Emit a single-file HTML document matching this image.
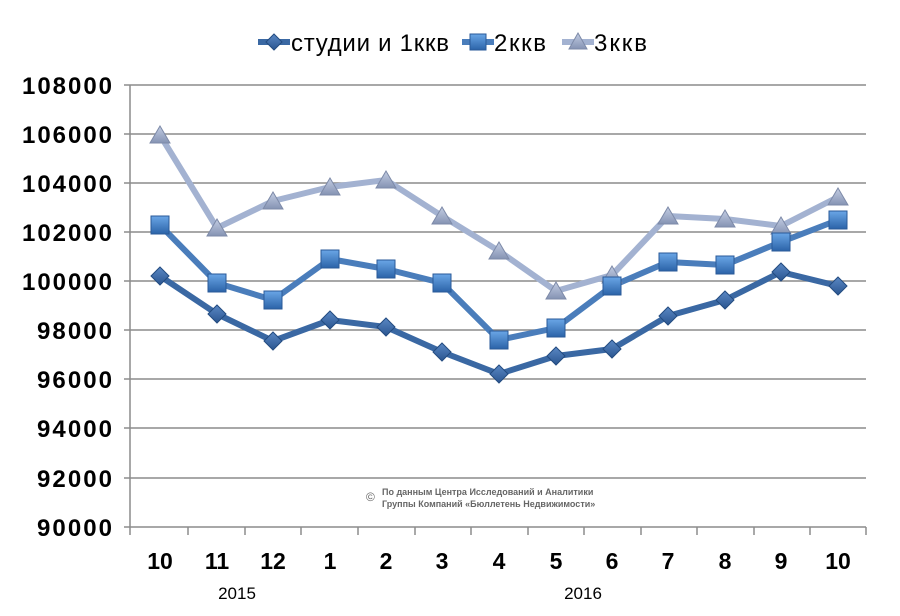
<!DOCTYPE html>
<html><head><meta charset="utf-8"><style>
body{margin:0;background:#fff;}
svg text{font-family:"Liberation Sans",sans-serif;}
</style></head><body>
<svg width="900" height="611" viewBox="0 0 900 611" xmlns="http://www.w3.org/2000/svg">
<defs>
<linearGradient id="gs" x1="0" y1="0" x2="0" y2="1"><stop offset="0" stop-color="#6aa6e6"/><stop offset="1" stop-color="#2b63a8"/></linearGradient>
<linearGradient id="gd" x1="0" y1="0" x2="0" y2="1"><stop offset="0" stop-color="#5a88c4"/><stop offset="1" stop-color="#2a5590"/></linearGradient>
<linearGradient id="gt" x1="0" y1="0" x2="0" y2="1"><stop offset="0" stop-color="#c3cde3"/><stop offset="1" stop-color="#8593b3"/></linearGradient>
</defs>
<g stroke="#8c8c8c" stroke-width="1.5">
<line x1="130" y1="85" x2="866" y2="85"/><line x1="130" y1="134" x2="866" y2="134"/>
<line x1="130" y1="183" x2="866" y2="183"/><line x1="130" y1="232" x2="866" y2="232"/>
<line x1="130" y1="281" x2="866" y2="281"/><line x1="130" y1="330" x2="866" y2="330"/>
<line x1="130" y1="379" x2="866" y2="379"/><line x1="130" y1="428" x2="866" y2="428"/>
<line x1="130" y1="478" x2="866" y2="478"/><line x1="130" y1="527" x2="866" y2="527"/>
<line x1="130" y1="85" x2="130" y2="535"/>
<line x1="124" y1="85" x2="130" y2="85"/><line x1="124" y1="134" x2="130" y2="134"/><line x1="124" y1="183" x2="130" y2="183"/><line x1="124" y1="232" x2="130" y2="232"/><line x1="124" y1="281" x2="130" y2="281"/><line x1="124" y1="330" x2="130" y2="330"/><line x1="124" y1="379" x2="130" y2="379"/><line x1="124" y1="428" x2="130" y2="428"/><line x1="124" y1="478" x2="130" y2="478"/><line x1="124" y1="527" x2="130" y2="527"/>
<line x1="188" y1="527" x2="188" y2="535"/><line x1="245" y1="527" x2="245" y2="535"/><line x1="301" y1="527" x2="301" y2="535"/><line x1="358" y1="527" x2="358" y2="535"/><line x1="415" y1="527" x2="415" y2="535"/><line x1="471" y1="527" x2="471" y2="535"/><line x1="528" y1="527" x2="528" y2="535"/><line x1="584" y1="527" x2="584" y2="535"/><line x1="641" y1="527" x2="641" y2="535"/><line x1="697" y1="527" x2="697" y2="535"/><line x1="754" y1="527" x2="754" y2="535"/><line x1="810" y1="527" x2="810" y2="535"/><line x1="866" y1="527" x2="866" y2="535"/>
</g>
<g font-size="24" font-weight="bold" fill="#000">
<text x="22" y="94" textLength="90">108000</text><text x="22" y="143" textLength="90">106000</text><text x="22" y="192" textLength="90">104000</text><text x="22" y="241" textLength="90">102000</text><text x="22" y="290" textLength="90">100000</text><text x="37" y="339" textLength="75">98000</text><text x="37" y="388" textLength="75">96000</text><text x="37" y="437" textLength="75">94000</text><text x="37" y="487" textLength="75">92000</text><text x="37" y="536" textLength="75">90000</text>
</g>
<g font-size="23" font-weight="bold" text-anchor="middle" fill="#000">
<text x="160" y="569">10</text><text x="217" y="569">11</text><text x="273" y="569">12</text><text x="330" y="569">1</text><text x="386" y="569">2</text><text x="442" y="569">3</text><text x="499" y="569">4</text><text x="556" y="569">5</text><text x="612" y="569">6</text><text x="668" y="569">7</text><text x="725" y="569">8</text><text x="781" y="569">9</text><text x="838" y="569">10</text>
</g>
<text x="237" y="599" font-size="17" text-anchor="middle">2015</text>
<text x="583" y="599" font-size="17" text-anchor="middle">2016</text>
<text x="366" y="501" font-size="12" fill="#666">©</text>
<text x="382" y="495" font-size="9" fill="#666" font-weight="bold">По данным Центра Исследований и Аналитики</text>
<text x="382" y="507" font-size="9" fill="#666" font-weight="bold">Группы Компаний «Бюллетень Недвижимости»</text>
<g fill="none" stroke-width="6" stroke-linejoin="round">
<polyline stroke="#a3b2d1" points="160,135 217,228 273,201 330,187 386,180 442,216 499,251 556,291 612,275 668,216 725,219 781,226 838,197"/>
<polyline stroke="#4a7dbb" points="160,225 217,283 273,300 330,259 386,269 442,283 499,340 556,328 612,286 668,262 725,265 781,242 838,220"/>
<polyline stroke="#3a68a3" points="160,276 217,314 273,341 330,320 386,327 442,352 499,374 556,356 612,349 668,316 725,300 781,272 838,286"/>
</g>
<g fill="url(#gt)" stroke="#7d8aa8" stroke-width="1">
<polygon points="160,126 170,143 150,143"/><polygon points="217,219 227,236 207,236"/><polygon points="273,192 283,209 263,209"/><polygon points="330,178 340,195 320,195"/><polygon points="386,171 396,188 376,188"/><polygon points="442,207 452,224 432,224"/><polygon points="499,242 509,259 489,259"/><polygon points="556,282 566,299 546,299"/><polygon points="612,266 622,283 602,283"/><polygon points="668,207 678,224 658,224"/><polygon points="725,210 735,227 715,227"/><polygon points="781,217 791,234 771,234"/><polygon points="838,188 848,205 828,205"/>
</g>
<g fill="url(#gs)" stroke="#2a5a98" stroke-width="1">
<rect x="151" y="216" width="18" height="18"/><rect x="208" y="274" width="18" height="18"/><rect x="264" y="291" width="18" height="18"/><rect x="321" y="250" width="18" height="18"/><rect x="377" y="260" width="18" height="18"/><rect x="433" y="274" width="18" height="18"/><rect x="490" y="331" width="18" height="18"/><rect x="547" y="319" width="18" height="18"/><rect x="603" y="277" width="18" height="18"/><rect x="659" y="253" width="18" height="18"/><rect x="716" y="256" width="18" height="18"/><rect x="772" y="233" width="18" height="18"/><rect x="829" y="211" width="18" height="18"/>
</g>
<g fill="url(#gd)" stroke="#234b80" stroke-width="1">
<polygon points="160,267 169,276 160,285 151,276"/><polygon points="217,305 226,314 217,323 208,314"/><polygon points="273,332 282,341 273,350 264,341"/><polygon points="330,311 339,320 330,329 321,320"/><polygon points="386,318 395,327 386,336 377,327"/><polygon points="442,343 451,352 442,361 433,352"/><polygon points="499,365 508,374 499,383 490,374"/><polygon points="556,347 565,356 556,365 547,356"/><polygon points="612,340 621,349 612,358 603,349"/><polygon points="668,307 677,316 668,325 659,316"/><polygon points="725,291 734,300 725,309 716,300"/><polygon points="781,263 790,272 781,281 772,272"/><polygon points="838,277 847,286 838,295 829,286"/>
</g>
<g font-size="24">
<line x1="258" y1="42" x2="290" y2="42" stroke="#3a68a3" stroke-width="6"/>
<polygon points="274,34 282,42 274,50 266,42" fill="url(#gd)" stroke="#234b80"/>
<text x="291" y="51" textLength="158">студии и 1ккв</text>
<line x1="462" y1="42" x2="494" y2="42" stroke="#4a7dbb" stroke-width="6"/>
<rect x="470" y="34" width="16" height="16" fill="url(#gs)" stroke="#2a5a98"/>
<text x="494" y="51" textLength="52">2ккв</text>
<line x1="562" y1="42" x2="594" y2="42" stroke="#a3b2d1" stroke-width="6"/>
<polygon points="578,33 587,49 569,49" fill="url(#gt)" stroke="#7d8aa8"/>
<text x="594" y="51" textLength="53">3ккв</text>
</g>
</svg>
</body></html>
